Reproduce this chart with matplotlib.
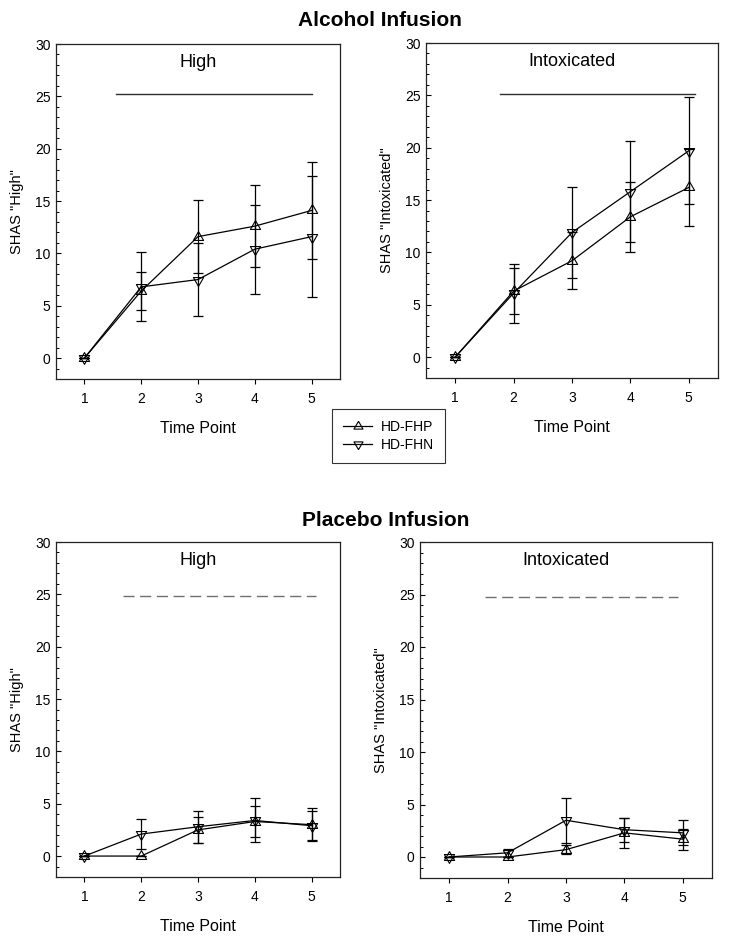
import matplotlib
matplotlib.use("Agg")
import matplotlib.pyplot as plt
from matplotlib.ticker import MultipleLocator
from matplotlib.lines import Line2D

plt.rcParams['font.family'] = ['Liberation Sans', 'DejaVu Sans']

time_points = [1, 2, 3, 4, 5]
series_names = ["HD-FHP", "HD-FHN"]

# Alcohol infusion - High
alc_high_fhp = [0, 6.4, 11.6, 12.6, 14.1]
alc_high_fhp_err = [0, 1.8, 3.5, 3.9, 4.6]
alc_high_fhn = [0, 6.8, 7.5, 10.4, 11.6]
alc_high_fhn_err = [0, 3.3, 3.5, 4.25, 5.8]

# Alcohol infusion - Intoxicated
alc_int_fhp = [0, 6.3, 9.2, 13.4, 16.2]
alc_int_fhp_err = [0, 2.2, 2.7, 3.35, 3.7]
alc_int_fhn = [0, 6.1, 11.9, 15.8, 19.7]
alc_int_fhn_err = [0, 2.8, 4.3, 4.8, 5.1]

# Placebo infusion - High
plc_high_fhp = [0, 0, 2.5, 3.3, 3.0]
plc_high_fhp_err = [0, 0, 1.25, 1.5, 1.6]
plc_high_fhn = [0, 2.1, 2.8, 3.4, 2.9]
plc_high_fhn_err = [0, 1.45, 1.55, 2.1, 1.4]

# Placebo infusion - Intoxicated
plc_int_fhp = [0, 0, 0.7, 2.3, 1.7]
plc_int_fhp_err = [0, 0, 0.45, 1.4, 1.0]
plc_int_fhn = [0, 0.4, 3.5, 2.6, 2.3]
plc_int_fhn_err = [0, 0.4, 2.15, 1.15, 1.2]

# significance bars (x start, x end, y)
alc_high_bar = (1.56, 5.0, 25.2)
alc_int_bar = (1.77, 5.1, 25.1)
plc_high_bar = (1.68, 5.07, 24.85)
plc_int_bar = (1.61, 4.91, 24.75)

panel_titles = ["High", "Intoxicated", "High", "Intoxicated"]
ylabels = ['SHAS "High"', 'SHAS "Intoxicated"', 'SHAS "High"', 'SHAS "Intoxicated"']
xlabel = "Time Point"
yticks = [0, 5, 10, 15, 20, 25, 30]

# centroid-centred triangles so overlapping up/down markers form a star
UP = [(0, 1), (-0.866, -0.5), (0.866, -0.5), (0, 1)]
DOWN = [(0, -1), (-0.866, 0.5), (0.866, 0.5), (0, -1)]
MS = 8.5

fig = plt.figure(figsize=(7.29, 9.42), dpi=100)

W, H = 729, 942
def axbox(l, r, t, b):
    return [l / W, 1 - b / H, (r - l) / W, (b - t) / H]

boxes = [axbox(56, 340, 44, 379), axbox(426, 718, 43, 378),
         axbox(56, 340, 542, 877), axbox(420, 712, 542, 878)]

panels = [
    (alc_high_fhp, alc_high_fhp_err, alc_high_fhn, alc_high_fhn_err, alc_high_bar, False),
    (alc_int_fhp, alc_int_fhp_err, alc_int_fhn, alc_int_fhn_err, alc_int_bar, False),
    (plc_high_fhp, plc_high_fhp_err, plc_high_fhn, plc_high_fhn_err, plc_high_bar, True),
    (plc_int_fhp, plc_int_fhp_err, plc_int_fhn, plc_int_fhn_err, plc_int_bar, True),
]

for i, (box, (fhp, fhpe, fhn, fhne, bar, dashed)) in enumerate(zip(boxes, panels)):
    ax = fig.add_axes(box)
    for vals, errs, mk in ((fhp, fhpe, UP), (fhn, fhne, DOWN)):
        ax.errorbar(time_points, vals, yerr=errs, fmt='none', ecolor='black',
                    elinewidth=0.9, capsize=3.8, capthick=0.9, zorder=2)
        ax.plot(time_points, vals, color='black', lw=0.9, marker=mk, ms=MS,
                mfc='none', mec='black', mew=0.8, zorder=3)
    if dashed:
        ax.plot([bar[0], bar[1]], [bar[2], bar[2]], color='#707070', lw=1.0,
                dashes=(8, 4))
    else:
        ax.plot([bar[0], bar[1]], [bar[2], bar[2]], color='#303030', lw=1.0)
    ax.text(3, 28.2, panel_titles[i], ha='center', va='center', fontsize=13)
    ax.set_xlim(0.5, 5.5)
    ax.set_ylim(-2, 30)
    ax.set_xticks(time_points)
    ax.set_yticks(yticks)
    ax.yaxis.set_minor_locator(MultipleLocator(1))
    ax.tick_params(axis='y', which='major', direction='in', length=3.5, width=0.8,
                   labelsize=10, pad=4)
    ax.tick_params(axis='y', which='minor', direction='in', length=2, width=0.7)
    ax.tick_params(axis='x', which='major', direction='out', length=3.5, width=0.8,
                   labelsize=10, pad=6)
    ax.tick_params(axis='x', which='minor', bottom=False)
    ax.set_xlabel(xlabel, fontsize=11.5, labelpad=11)
    ax.set_ylabel(ylabels[i], fontsize=10.5, labelpad=8)
    for s in ax.spines.values():
        s.set_linewidth(0.9)
        s.set_color('#222222')

fig.text(380 / W, 1 - 20 / H, "Alcohol Infusion", ha='center', va='center',
         fontsize=15, fontweight='bold')
fig.text(386 / W, 1 - 520 / H, "Placebo Infusion", ha='center', va='center',
         fontsize=15, fontweight='bold')

handles = [Line2D([], [], color='black', lw=0.9, marker=m, ms=7.5, mfc='none',
                  mec='black', mew=0.8) for m in (UP, DOWN)]
leg = fig.legend(handles, series_names, loc='upper left',
                 bbox_to_anchor=(332 / W, 1 - 409 / H), borderaxespad=0,
                 fontsize=10, frameon=True, fancybox=False, handlelength=2.1,
                 borderpad=0.8, labelspacing=0.3, handletextpad=0.6)
leg.get_frame().set_edgecolor('black')
leg.get_frame().set_linewidth(0.8)

fig.savefig("out.png", dpi=100)
